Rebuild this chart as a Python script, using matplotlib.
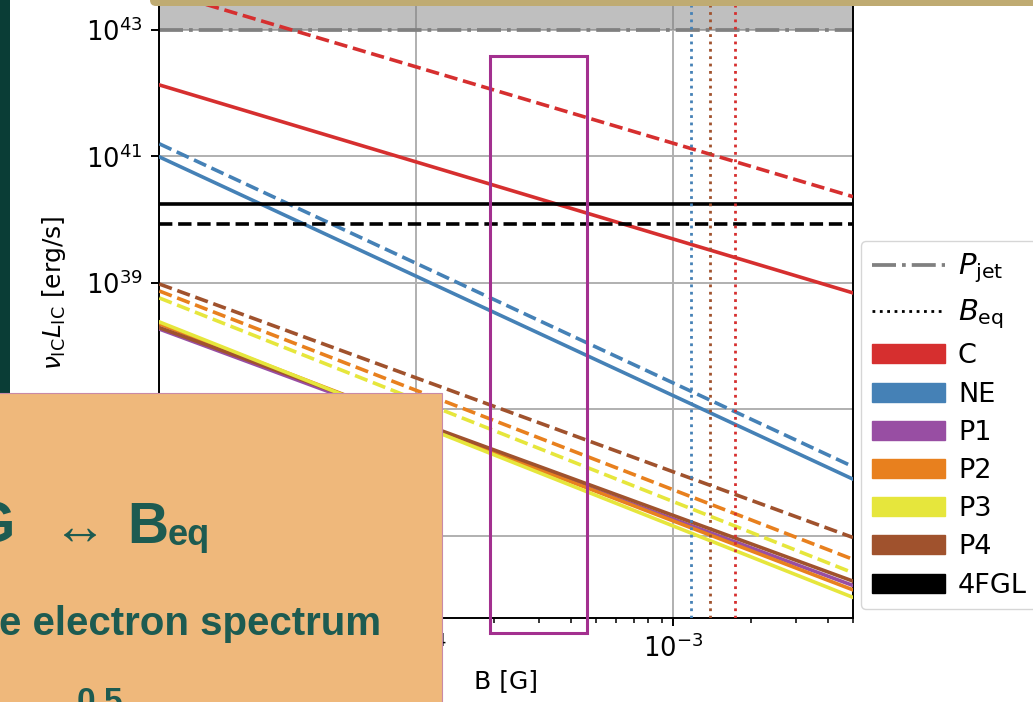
import numpy as np
import matplotlib
matplotlib.use("Agg")
from matplotlib import pyplot as plt
from matplotlib.lines import Line2D
from matplotlib.patches import Patch, Rectangle, FancyBboxPatch
from matplotlib.ticker import NullLocator, FixedLocator

# estremi in B [G] delle rette (log-log)
B_ends = [1e-5, 5e-3]

# nu_IC L_IC [erg/s] agli estremi: linea piena e tratteggiata
C_sol = [1.35e42, 6.9e38]
C_dash = [4.2e43, 2.3e40]
NE_sol = [9.8e40, 7.8e35]
NE_dash = [1.58e41, 1.23e36]
P1_sol = [1.85e38, 1.62e34]
P2_sol = [2.24e38, 1.38e34]
P2_dash = [7.4e38, 4.2e34]
P3_sol = [2.4e38, 1.05e34]
P3_dash = [5.75e38, 2.57e34]
P4_sol = [1.95e38, 1.9e34]
P4_dash = [9.55e38, 9.3e34]

L_4FGL = 1.78e40
L_4FGL_dash = 8.5e39
P_jet = 1e43
y_top = 1e44
y_bottom = 4.9e33

# campi di equipartizione [G]
B_eq = [1.17e-3, 1.39e-3, 1.74e-3]

nomi = ["C", "NE", "P1", "P2", "P3", "P4", "4FGL"]
colori = ["#d62f2f", "#4581b6", "#984ea3", "#e8801e", "#e6e63c", "#a0522d", "#000000"]
col_eq = ["#4581b6", "#a0522d", "#d62f2f"]

fig = plt.figure(figsize=(10.33, 7.02), dpi=100)
W, H = 1033, 702
ax = fig.add_axes([159.3 / W, (H - 618.3) / H, (853 - 159.3) / W, (618.3 + 33.25) / H])

lw = 2.6
ax.axhspan(P_jet, y_top, color="grey", alpha=0.5, lw=0, zorder=1)
ax.axhline(P_jet, color="grey", ls="-.", lw=2.7, zorder=2)

ax.plot(B_ends, C_sol, color=colori[0], lw=lw, zorder=3)
ax.plot(B_ends, C_dash, color=colori[0], lw=lw, ls="--", zorder=3)
ax.plot(B_ends, NE_sol, color=colori[1], lw=lw, zorder=3)
ax.plot(B_ends, NE_dash, color=colori[1], lw=lw, ls="--", zorder=3)
ax.plot(B_ends, P1_sol, color=colori[2], lw=lw, zorder=3)
ax.plot(B_ends, P2_sol, color=colori[3], lw=lw, zorder=3)
ax.plot(B_ends, P2_dash, color=colori[3], lw=lw, ls="--", zorder=3)
ax.plot(B_ends, P4_sol, color=colori[5], lw=lw, zorder=3)
ax.plot(B_ends, P4_dash, color=colori[5], lw=lw, ls="--", zorder=3)
ax.plot(B_ends, P3_sol, color=colori[4], lw=lw, zorder=3)
ax.plot(B_ends, P3_dash, color=colori[4], lw=lw, ls="--", zorder=3)

ax.axhline(L_4FGL, color="black", lw=lw, zorder=3)
ax.axhline(L_4FGL_dash, color="black", lw=lw, ls="--", zorder=3)

for b, c in zip(B_eq, col_eq):
    ax.axvline(b, color=c, ls=":", lw=2, zorder=3)

ax.set_xscale("log")
ax.set_yscale("log")
ax.set_xlim(B_ends)
ax.set_ylim(y_bottom, y_top)
ax.yaxis.set_major_locator(FixedLocator([1e35, 1e37, 1e39, 1e41, 1e43]))
ax.yaxis.set_minor_locator(NullLocator())
ax.grid(which="major", color="#b0b0b0", lw=1.4, zorder=0)
ax.set_axisbelow(True)
ax.tick_params(which="major", length=6, width=1.4, labelsize=18.5, pad=6)
ax.tick_params(which="minor", length=3.5, width=1.1)
for s in ax.spines.values():
    s.set_linewidth(1.4)

ax.set_xlabel("B [G]", fontsize=18)
ax.set_ylabel(r"$\nu_{\rm IC}L_{\rm IC}$ [erg/s]", fontsize=18)
ax.yaxis.set_label_coords((68 - 159.3) / 693.7, 0.5)

handles = [Line2D([], [], color="grey", ls="-.", lw=2.7, label=r"$P_{\rm jet}$"),
           Line2D([], [], color="black", ls=":", lw=2, label=r"$B_{\rm eq}$")]
for n, c in zip(nomi, colori):
    handles.append(Patch(color=c, label=n))
leg = fig.legend(handles=handles, loc="upper left", bbox_to_anchor=(861 / W, 1 - 241 / H),
                 borderaxespad=0, fontsize=19.5, handlelength=2.7, labelspacing=0.45,
                 handletextpad=0.48, borderpad=0.4)
for t in leg.get_texts()[:2]:
    t.set_fontsize(21)

# elementi della slide sopra il grafico
ov = fig.add_axes([0, 0, 1, 1], zorder=10)
ov.set_xlim(0, W)
ov.set_ylim(H, 0)
ov.axis("off")

ov.add_patch(Rectangle((0, 0), 10, 393, color="#0a3d36", lw=0))
ov.add_patch(FancyBboxPatch((150, -20), 900, 26, boxstyle="round,pad=0,rounding_size=6",
                            fc="#bfab72", ec="none"))
ov.add_patch(Rectangle((490, 56), 96.7, 577, fill=False, ec="#a3308f", lw=2.2))
ov.add_patch(Rectangle((-5, 393.3), 447, 320, fc="#efb87b", ec="#c98aa6", lw=0.8))

tc = "#1d5b51"
ff = ["Liberation Sans", "DejaVu Sans"]
ov.text(15, 542.7, "G", ha="right", va="baseline", fontsize=41, fontweight="bold", color=tc, family=ff)
ov.text(53, 544, "\u2194", ha="left", va="baseline", fontsize=39, color=tc, family=ff)
ov.text(127.7, 542.7, "B", ha="left", va="baseline", fontsize=41, fontweight="bold", color=tc, family=ff)
ov.text(167.7, 545, "eq", ha="left", va="baseline", fontsize=26, fontweight="bold", color=tc, family=ff)
ov.text(381, 635, "e electron spectrum", ha="right", va="baseline", fontsize=29, fontweight="bold",
        color=tc, family=ff)
ov.text(77, 711, "0.5", ha="left", va="baseline", fontsize=24, fontweight="bold", color=tc, family=ff)

plt.savefig("out.png", dpi=100)
